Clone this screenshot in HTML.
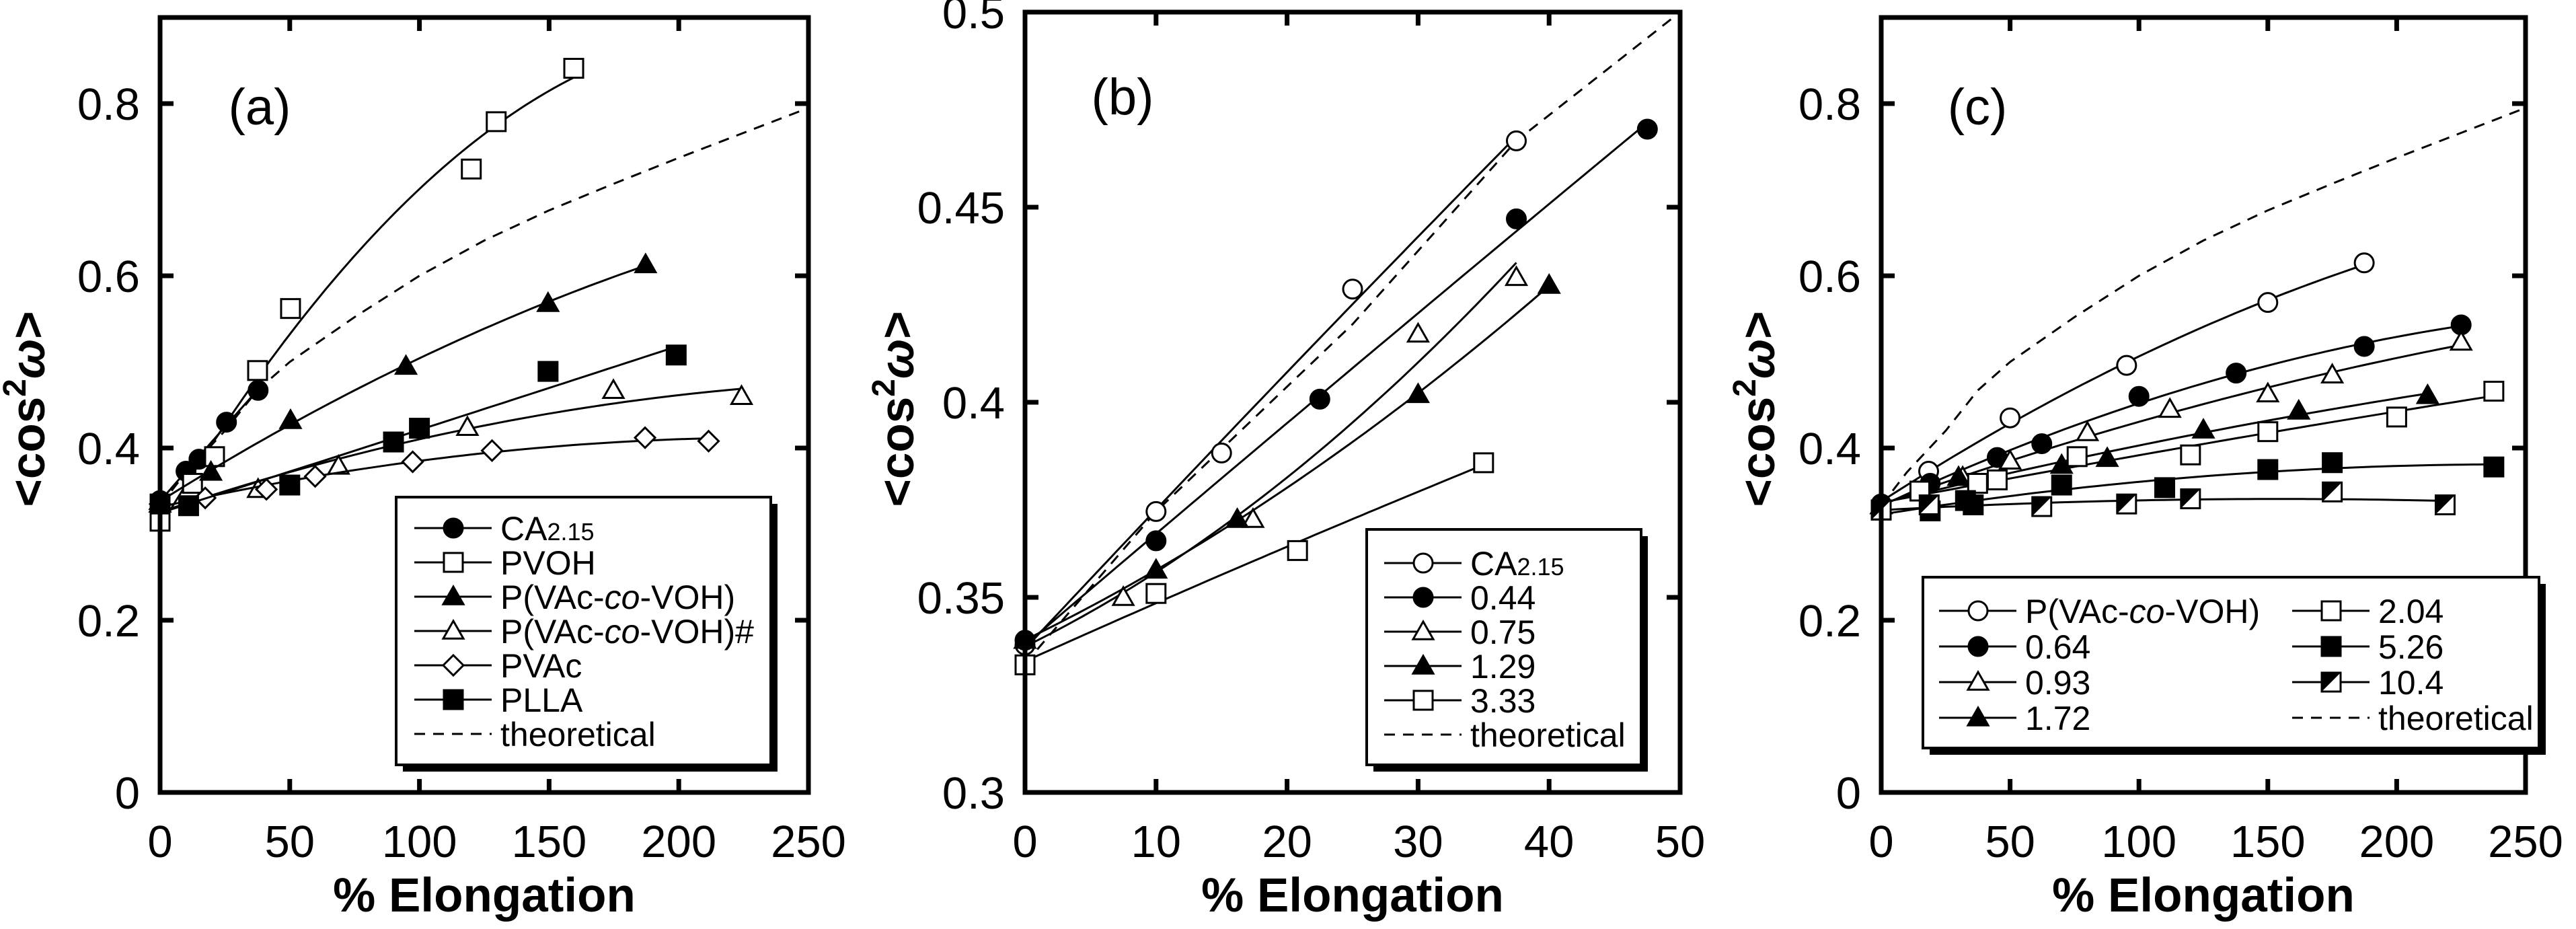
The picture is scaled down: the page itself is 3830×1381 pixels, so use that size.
<!DOCTYPE html>
<html><head><meta charset="utf-8">
<style>
html,body{margin:0;padding:0;background:#fff;}
svg{display:block;font-family:"Liberation Sans",Arial,sans-serif;}
</style></head>
<body>
<svg id="fig" width="3830" height="1381" viewBox="0 0 3830 1381" xmlns="http://www.w3.org/2000/svg"></svg>
<script>
// ---------- Panel (a) data ----------
const aCA_x=[0,10,15,25.6,37.8];
const aCA_y=[0.339,0.373,0.387,0.430,0.467];
const aPVOH_x=[0,12.5,21,37.6,50.3,120,129.6,159.5];
const aPVOH_y=[0.315,0.359,0.390,0.490,0.562,0.724,0.779,0.841];
const aCop_x=[0,19.6,50.3,94.8,149.6,187.2];
const aCop_y=[0.338,0.372,0.432,0.495,0.568,0.613];
const aCopH_x=[0,37.8,68.8,118.5,174.8,224.2];
const aCopH_y=[0.335,0.352,0.379,0.424,0.467,0.460];
const aPVAc_x=[0,17.4,41,59.8,97.4,128,187,211.5];
const aPVAc_y=[0.335,0.342,0.352,0.367,0.384,0.397,0.412,0.408];
const aPLLA_x=[0,11,50,90,100,149.6,199];
const aPLLA_y=[0.335,0.333,0.357,0.407,0.423,0.489,0.508];
const theo_x=[0,10,25,37.5,50,75,100,125,150,175,200,225,250];
const theo_y=[0.333,0.372,0.420,0.467,0.500,0.552,0.600,0.641,0.676,0.707,0.737,0.766,0.795];
// ---------- Panel (b) data ----------
const bCA_x=[0,10,15,25,37.5];
const bCA_y=[0.3378,0.372,0.387,0.429,0.467];
const b044_x=[0,10,22.5,37.5,47.5];
const b044_y=[0.339,0.3645,0.4008,0.447,0.470];
const b075_x=[0,7.5,17.4,30,37.5];
const b075_y=[0.339,0.350,0.370,0.4175,0.432];
const b129_x=[0,10,16.2,30,40];
const b129_y=[0.339,0.357,0.370,0.402,0.430];
const b333_x=[0,10,20.8,35];
const b333_y=[0.3327,0.351,0.362,0.3845];
// ---------- Panel (c) data ----------
const cCop_x=[0,18.4,50,95.2,150,187.4];
const cCop_y=[0.335,0.373,0.435,0.496,0.569,0.615];
const c064_x=[0,19,45,62.3,100,137.7,187.4,225];
const c064_y=[0.335,0.359,0.389,0.405,0.460,0.487,0.518,0.543];
const c093_x=[0,31.6,50,80,112,150,175,225];
const c093_y=[0.333,0.366,0.385,0.418,0.445,0.463,0.485,0.523];
const c172_x=[0,30,70,87.7,125,162,212];
const c172_y=[0.333,0.366,0.380,0.388,0.421,0.443,0.461];
const c204_x=[0,15,37.4,45,76,120,150,200,237.7];
const c204_y=[0.328,0.350,0.359,0.363,0.390,0.392,0.419,0.436,0.466];
const c526_x=[0,19,32.7,35.7,70,110,150,175,237.7];
const c526_y=[0.328,0.327,0.339,0.334,0.357,0.354,0.375,0.383,0.378];
const c104_x=[0,18.6,62.3,95.2,120,175,218.8];
const c104_y=[0.328,0.334,0.332,0.335,0.341,0.349,0.334];
// ---------- ticks ----------
const xTicksAC=[0,50,100,150,200,250];
const xTicksB=[0,10,20,30,40,50];
const yTicksAC=[0,0.2,0.4,0.6,0.8];
const yTicksAC_lbl=["0","0.2","0.4","0.6","0.8"];
const yTicksB=[0.3,0.35,0.4,0.45,0.5];
const yTicksB_lbl=["0.3","0.35","0.4","0.45","0.5"];

const NS="http://www.w3.org/2000/svg";
const svg=document.getElementById('fig');
function mk(tag,attrs,parent){const e=document.createElementNS(NS,tag);for(const k in attrs)e.setAttribute(k,attrs[k]);(parent||svg).appendChild(e);return e;}

function fit2(xs,ys){ // least squares quadratic
  let n=xs.length,S=[0,0,0,0,0],T=[0,0,0];
  for(let i=0;i<n;i++){let p=1;for(let k=0;k<5;k++){S[k]+=p;if(k<3)T[k]+=p*ys[i];p*=xs[i];}}
  const M=[[S[0],S[1],S[2],T[0]],[S[1],S[2],S[3],T[1]],[S[2],S[3],S[4],T[2]]];
  for(let i=0;i<3;i++){for(let j=i+1;j<3;j++){const f=M[j][i]/M[i][i];for(let k=i;k<4;k++)M[j][k]-=f*M[i][k];}}
  const c=[0,0,0];for(let i=2;i>=0;i--){let s=M[i][3];for(let k=i+1;k<3;k++)s-=M[i][k]*c[k];c[i]=s/M[i][i];}
  return x=>c[0]+c[1]*x+c[2]*x*x;
}

function marker(g,type,cx,cy){
  const r=14;
  if(type==='oc'||type==='fc'){const e=mk('circle',{cx:cx,cy:cy,r:r,fill:type==='fc'?'#000':'#fff',stroke:'#000','stroke-width':3},g);return e;}
  if(type==='os'||type==='fs'){return mk('rect',{x:cx-r,y:cy-r,width:2*r,height:2*r,fill:type==='fs'?'#000':'#fff',stroke:'#000','stroke-width':3},g);}
  if(type==='hs'){const gg=mk('g',{},g);mk('rect',{x:cx-r,y:cy-r,width:2*r,height:2*r,fill:'#fff',stroke:'#000','stroke-width':3},gg);mk('polygon',{points:`${cx-r},${cy-r} ${cx+r},${cy-r} ${cx-r},${cy+r}`,fill:'#000'},gg);return gg;}
  if(type==='ot'||type==='ft'){const h=15;return mk('polygon',{points:`${cx},${cy-h} ${cx+h},${cy+h*0.75} ${cx-h},${cy+h*0.75}`,fill:type==='ft'?'#000':'#fff',stroke:'#000','stroke-width':3},g);}
  if(type==='od'){const h=15;return mk('polygon',{points:`${cx},${cy-h} ${cx+h},${cy} ${cx},${cy+h} ${cx-h},${cy}`,fill:'#fff',stroke:'#000','stroke-width':3},g);}
}

function panel(cfg){
  const g=mk('g',{});
  
  
  const X=v=>cfg.L+(v-cfg.x0)/(cfg.x1-cfg.x0)*(cfg.R-cfg.L);
  const Y=v=>cfg.B-(v-cfg.y0)/(cfg.y1-cfg.y0)*(cfg.B-cfg.T);
  const cid='clip-'+cfg.name;
  const cp=mk('clipPath',{id:cid},g);mk('rect',{x:cfg.L,y:cfg.T,width:cfg.R-cfg.L,height:cfg.B-cfg.T},cp);
  // theoretical
  const tp=theo_x.map((x,i)=>`${X(x).toFixed(1)},${Y(theo_y[i]).toFixed(1)}`).join(' ');
  const tl=mk('polyline',{points:tp,fill:'none',stroke:'#000','stroke-width':3,'stroke-dasharray':'16,12','clip-path':`url(#${cid})`},g);
  
  
  // series
  cfg.series.forEach(s=>{
    const sg=mk('g',{},g);
    
    
    const f=fit2(s.x,s.y);const xm=Math.max(...s.x);let pts=[];
    for(let i=0;i<=60;i++){const xv=xm*i/60;pts.push(`${X(xv).toFixed(1)},${Y(f(xv)).toFixed(1)}`);}
    const fl=mk('polyline',{points:pts.join(' '),fill:'none',stroke:'#000','stroke-width':3,'clip-path':`url(#${cid})`},sg);
    
    
    s.x.forEach((xv,i)=>{const m=marker(sg,s.m,X(xv),Y(s.y[i]));
      
      });
  });
  // frame
  const fr=mk('rect',{x:cfg.L,y:cfg.T,width:cfg.R-cfg.L,height:cfg.B-cfg.T,fill:'none',stroke:'#000','stroke-width':7},g);
  
  
  // ticks
  cfg.xt.forEach(v=>{const x=X(v);
    mk('line',{x1:x,y1:cfg.B,x2:x,y2:cfg.B-20,stroke:'#000','stroke-width':7},g);
    mk('line',{x1:x,y1:cfg.T,x2:x,y2:cfg.T+20,stroke:'#000','stroke-width':7},g);
    const t=mk('text',{x:x,y:cfg.B+96,'font-size':67,'text-anchor':'middle'},g);t.textContent=String(v);
    
    });
  cfg.yt.forEach((v,i)=>{const y=Y(v);
    mk('line',{x1:cfg.L,y1:y,x2:cfg.L+20,y2:y,stroke:'#000','stroke-width':7},g);
    mk('line',{x1:cfg.R,y1:y,x2:cfg.R-20,y2:y,stroke:'#000','stroke-width':7},g);
    const t=mk('text',{x:cfg.L-30,y:y+24,'font-size':67,'text-anchor':'end'},g);t.textContent=cfg.ytl[i];
    
    });
  const xt=mk('text',{x:(cfg.L+cfg.R)/2,y:1355,'font-size':71,'font-weight':'bold','text-anchor':'middle'},g);
  xt.textContent='% Elongation';
  
  
  const yt=mk('text',{x:0,y:0,'font-size':71,'font-weight':'bold','text-anchor':'middle',transform:`translate(${cfg.yx},608) rotate(-90)`},g);
  yt.innerHTML='&lt;cos<tspan dy="-28" font-size="48">2</tspan><tspan dy="28" font-style="italic">ω</tspan>&gt;';
  
  
  const pl=mk('text',{x:cfg.lx,y:cfg.ly,'font-size':76,'text-anchor':'middle'},g);pl.textContent=cfg.label;
  
  
  // legend
  const lg=mk('g',{},g);
  
  
  const b=cfg.leg.box;
  mk('rect',{x:b[0]+10,y:b[1]+10,width:b[2]-b[0],height:b[3]-b[1],fill:'#000'},lg);
  mk('rect',{x:b[0],y:b[1],width:b[2]-b[0],height:b[3]-b[1],fill:'#fff',stroke:'#000','stroke-width':4},lg);
  cfg.leg.items.forEach(it=>{
    const e=mk('g',{},lg);
    
    
    mk('line',{x1:it.x,y1:it.y,x2:it.x+115,y2:it.y,stroke:'#000','stroke-width':3,'stroke-dasharray':it.m==='dash'?'16,12':'none'},e);
    if(it.m!=='dash')marker(e,it.m,it.x+58,it.y);
    const t=mk('text',{x:it.x+128,y:it.y+18,'font-size':50},e);t.innerHTML=it.t;
  });
}

const aLeg=[['fc','CA<tspan font-size="36">2.15</tspan>'],['os','PVOH'],['ft','P(VAc-<tspan font-style="italic">co</tspan>-VOH)'],['ot','P(VAc-<tspan font-style="italic">co</tspan>-VOH)#'],['od','PVAc'],['fs','PLLA'],['dash','theoretical']];
panel({name:'panel-a',L:238,R:1202,T:26,B:1178,x0:0,x1:250,y0:0,y1:0.9,xt:xTicksAC,yt:yTicksAC,ytl:yTicksAC_lbl,yx:66,lx:386,ly:185,label:'(a)',
 series:[{key:'ca215',m:'fc',x:aCA_x,y:aCA_y},{key:'pvoh',m:'os',x:aPVOH_x,y:aPVOH_y},{key:'pvac-co-voh',m:'ft',x:aCop_x,y:aCop_y},
  {key:'pvac-co-voh-hash',m:'ot',x:aCopH_x,y:aCopH_y},{key:'pvac',m:'od',x:aPVAc_x,y:aPVAc_y},{key:'plla',m:'fs',x:aPLLA_x,y:aPLLA_y}],
 leg:{box:[589,739,1146,1137],items:aLeg.map((a,i)=>({m:a[0],t:a[1],x:616,y:785+51*i}))}});

const bLeg=[['oc','CA<tspan font-size="36">2.15</tspan>'],['fc','0.44'],['ot','0.75'],['ft','1.29'],['os','3.33'],['dash','theoretical']];
panel({name:'panel-b',L:1524,R:2498,T:18,B:1178,x0:0,x1:50,y0:0.3,y1:0.5,xt:xTicksB,yt:yTicksB,ytl:yTicksB_lbl,yx:1358,lx:1669,ly:170,label:'(b)',
 series:[{key:'ca215',m:'oc',x:bCA_x,y:bCA_y},{key:'0.44',m:'fc',x:b044_x,y:b044_y},{key:'0.75',m:'ot',x:b075_x,y:b075_y},
  {key:'1.29',m:'ft',x:b129_x,y:b129_y},{key:'3.33',m:'os',x:b333_x,y:b333_y}],
 leg:{box:[2032,787,2440,1137],items:bLeg.map((a,i)=>({m:a[0],t:a[1],x:2058,y:837+51*i}))}});

const cLeg1=[['oc','P(VAc-<tspan font-style="italic">co</tspan>-VOH)'],['fc','0.64'],['ot','0.93'],['ft','1.72']];
const cLeg2=[['os','2.04'],['fs','5.26'],['hs','10.4'],['dash','theoretical']];
panel({name:'panel-c',L:2797,R:3755,T:26,B:1178,x0:0,x1:250,y0:0,y1:0.9,xt:xTicksAC,yt:yTicksAC,ytl:yTicksAC_lbl,yx:2638,lx:2940,ly:185,label:'(c)',
 series:[{key:'pvac-co-voh',m:'oc',x:cCop_x,y:cCop_y},{key:'0.64',m:'fc',x:c064_x,y:c064_y},{key:'0.93',m:'ot',x:c093_x,y:c093_y},
  {key:'1.72',m:'ft',x:c172_x,y:c172_y},{key:'2.04',m:'os',x:c204_x,y:c204_y},{key:'5.26',m:'fs',x:c526_x,y:c526_y},{key:'10.4',m:'hs',x:c104_x,y:c104_y}],
 leg:{box:[2859,858,3775,1112],items:cLeg1.map((a,i)=>({m:a[0],t:a[1],x:2883,y:908+53*i})).concat(cLeg2.map((a,i)=>({m:a[0],t:a[1],x:3408,y:908+53*i})))}});
</script>
</body></html>
